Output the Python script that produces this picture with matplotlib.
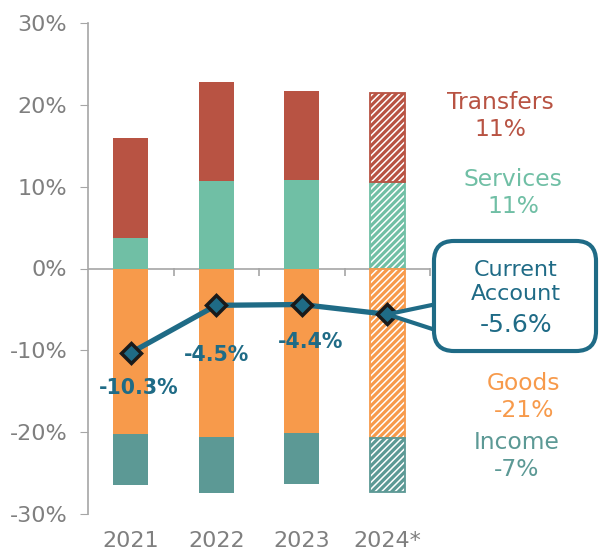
import matplotlib.pyplot as plt
from matplotlib.patches import FancyBboxPatch
from matplotlib.transforms import IdentityTransform
import numpy as np

years = ['2021', '2022', '2023', '2024*']
services = [3.7, 10.7, 10.8, 10.6]
transfers = [12.3, 12.1, 10.9, 10.9]
goods = [-20.2, -20.6, -20.1, -20.7]
income = [-6.3, -6.8, -6.2, -6.6]
current_account = [-10.3, -4.5, -4.4, -5.6]
ca_labels = ['-10.3%', '-4.5%', '-4.4%']
yticks = [-30, -20, -10, 0, 10, 20, 30]

c_transfers = '#b85343'
c_services = '#70bfa5'
c_goods = '#f79a4b'
c_income = '#5c9995'
c_line = '#1f6b86'
c_gray = '#7f7f7f'

plt.rcParams['font.family'] = ['DejaVu Sans']
plt.rcParams['hatch.linewidth'] = 1.1

fig = plt.figure(figsize=(5.99, 5.51), dpi=100)
W, H = 599, 551
ax = fig.add_axes([88 / W, 1 - 514 / H, (430 - 88) / W, (514 - 23) / H])

x = np.arange(len(years))
bw = 0.41
solid = x[:-1]
est = x[-1:]

# solid bars (actual years)
ax.bar(solid, services[:-1], bw, color=c_services, zorder=2)
ax.bar(solid, transfers[:-1], bw, bottom=services[:-1], color=c_transfers, zorder=2)
ax.bar(solid, goods[:-1], bw, color=c_goods, zorder=2)
ax.bar(solid, income[:-1], bw, bottom=goods[:-1], color=c_income, zorder=2)

# hatched estimate bars
parts = [(services, 0, c_services), (transfers, services, c_transfers),
         (goods, 0, c_goods), (income, goods, c_income)]
for vals, base, col in parts:
    b = base[-1] if isinstance(base, list) else 0
    ax.bar(est, vals[-1:], bw, bottom=b, color=col, edgecolor='white',
           hatch='/////', linewidth=0, zorder=2)
    ax.bar(est, vals[-1:], bw, bottom=b, fill=False, edgecolor=col,
           linewidth=1.3, zorder=2)

ax.axhline(0, color='#a6a6a6', lw=1.2, zorder=1)

# current account line
ax.plot(x, current_account, color=c_line, lw=3.8, marker='D', ms=10,
        mfc=c_line, mec='#1a1a1a', mew=2.5, zorder=5)

offsets = [(6, -25), (0, -36), (6, -27)]
for xi, yi, lab, off in zip(x, current_account, ca_labels, offsets):
    ax.annotate(lab, (xi, yi), xytext=off, textcoords='offset points',
                ha='center', va='center', fontsize=14.8, fontweight='bold',
                color=c_line, zorder=6)

ax.set_xlim(-0.5, 3.5)
ax.set_ylim(-30, 30)
ax.set_yticks(yticks)
ax.set_yticklabels([f'{t}%' for t in yticks])
ax.set_xticks(x)
ax.set_xticklabels(years)
ax.tick_params(axis='x', length=0, labelsize=16, labelcolor=c_gray, pad=12)
ax.tick_params(axis='y', length=6, color='#a6a6a6', labelsize=16,
               labelcolor=c_gray, pad=9)
for s in ['top', 'right', 'bottom']:
    ax.spines[s].set_visible(False)
ax.spines['left'].set_color('#a6a6a6')
ax.spines['left'].set_linewidth(1.2)

# separator ticks on the zero line, pointing down
sec = ax.secondary_xaxis(0.5)
sec.set_xticks(x + 0.5)
sec.set_xticklabels([])
for s in sec.spines.values():
    s.set_visible(False)
sec.tick_params(length=6, color='#a6a6a6', width=1.2, direction='in')

# right-hand component labels
right = [('Transfers\n11%', 500, 116, c_transfers),
         ('Services\n11%', 513, 193, c_services),
         ('Goods\n-21%', 524, 397, c_goods),
         ('Income\n-7%', 517, 456, c_income)]
for txt, px, py, col in right:
    fig.text(px / W, 1 - py / H, txt, ha='center', va='center',
             fontsize=16.8, color=col, linespacing=1.2)

# callout for current account
ident = IdentityTransform()
bx0, bx1, by0, by1 = 434, 596, 241, 351
ax.annotate('', xy=(3, current_account[-1]),
            xytext=(455, H - 318), textcoords=ident,
            arrowprops=dict(arrowstyle='wedge,tail_width=26,shrink_factor=0.5',
                            mutation_scale=1, fc='white', ec=c_line, lw=3,
                            shrinkA=0, shrinkB=0),
            zorder=7, annotation_clip=False)
outer = FancyBboxPatch((bx0, H - by1), bx1 - bx0, by1 - by0,
                       boxstyle='round,pad=0,rounding_size=20',
                       transform=ident, fc='white', ec=c_line, lw=3, zorder=6)
inner = FancyBboxPatch((bx0 + 2.5, H - by1 + 2.5), bx1 - bx0 - 5, by1 - by0 - 5,
                       boxstyle='round,pad=0,rounding_size=18',
                       transform=ident, fc='white', ec='none', lw=0, zorder=8)
fig.patches.extend([outer, inner])
outer.set_figure(fig)
inner.set_figure(fig)
fig.text(516 / W, 1 - 282 / H, 'Current\nAccount', ha='center', va='center',
         fontsize=16, color=c_line, linespacing=1.2, zorder=9)
fig.text(516 / W, 1 - 325 / H, f'{current_account[-1]}%', ha='center',
         va='center', fontsize=18, color=c_line, zorder=9)

fig.savefig('out.png', dpi=100)
